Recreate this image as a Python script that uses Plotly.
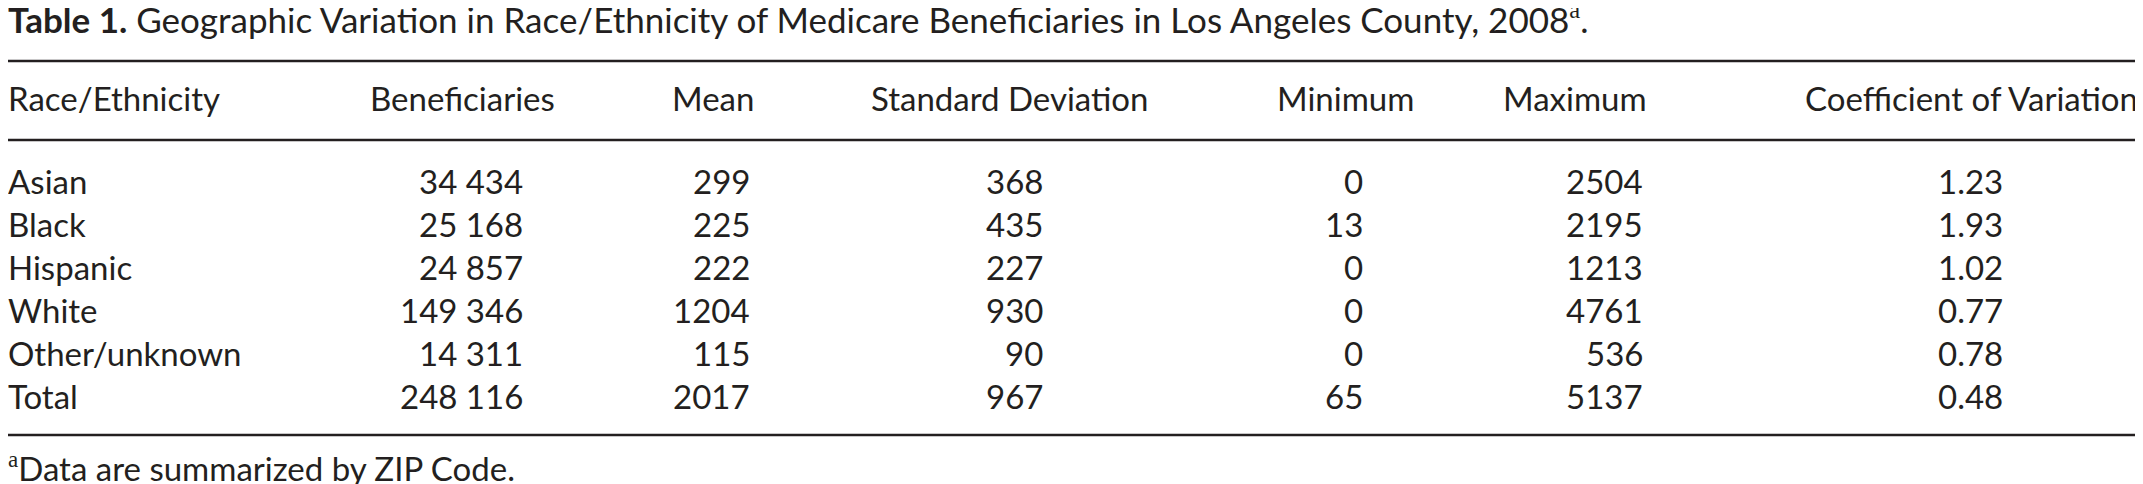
import plotly.graph_objects as go

# table content
title_label = "Table 1."
title_text = "Geographic Variation in Race/Ethnicity of Medicare Beneficiaries in Los Angeles County, 2008"
footnote = "Data are summarized by ZIP Code."

columns = ["Race/Ethnicity", "Beneficiaries", "Mean", "Standard Deviation",
           "Minimum", "Maximum", "Coefficient of Variation"]
groups = ["Asian", "Black", "Hispanic", "White", "Other/unknown", "Total"]
beneficiaries = [34434, 25168, 24857, 149346, 14311, 248116]
mean = [299, 225, 222, 1204, 115, 2017]
std_dev = [368, 435, 227, 930, 90, 967]
minimum = [0, 13, 0, 0, 0, 65]
maximum = [2504, 2195, 1213, 4761, 536, 5137]
coef_var = [1.23, 1.93, 1.02, 0.77, 0.78, 0.48]

W, H = 2143, 484
INK = "#231f20"
FONT = "Lato"
BODY = 33
TITLE = 35

# layout of the page (pixels)
header_centers = [None, 454, 705, 1002, 1337, 1567, 1963]
value_right = [None, 515, 742, 1035, 1355, 1635, 1995]
header_y = 89.5
row_y0 = 172.5
row_step = 43
rules_y = [53, 132, 427]
SUP = '<sup><span style="font-family:\'Liberation Serif\'">a</span></sup>'


def fmt_thousands(v):
    return f"{v:,}".replace(",", " ")


value_cols = [
    [fmt_thousands(v) for v in beneficiaries],
    [str(v) for v in mean],
    [str(v) for v in std_dev],
    [str(v) for v in minimum],
    [str(v) for v in maximum],
    [f"{v:.2f}" for v in coef_var],
]

fig = go.Figure()
annotations = []


def add_text(x, y, text, xanchor, size=BODY):
    annotations.append(dict(
        x=x, y=y, xref="x", yref="y", text=text, showarrow=False,
        xanchor=xanchor, yanchor="middle", borderpad=0, borderwidth=0,
        font=dict(family=FONT, size=size, color=INK),
    ))


# title and footnote (the superscript makes the box taller, hence the offsets)
add_text(0, 10, f"<b>{title_label}</b> {title_text}{SUP}.", "left", TITLE)
add_text(0, 459, f"{SUP}{footnote}", "left")

# header row
add_text(0, header_y, columns[0], "left")
for name, cx in zip(columns[1:], header_centers[1:]):
    add_text(cx, header_y, name, "center")

# body rows
for i, grp in enumerate(groups):
    y = row_y0 + i * row_step
    add_text(0, y, grp, "left")
    for col, xr in zip(value_cols, value_right[1:]):
        add_text(xr, y, col[i], "right")

shapes = [
    dict(type="line", xref="paper", yref="y", x0=0, x1=1, y0=ry, y1=ry,
         line=dict(color=INK, width=2.5))
    for ry in rules_y
]

fig.update_layout(
    width=W, height=H,
    margin=dict(l=0, r=0, t=0, b=0),
    paper_bgcolor="white", plot_bgcolor="white",
    xaxis=dict(range=[0, W], visible=False, fixedrange=True),
    yaxis=dict(range=[H, 0], visible=False, fixedrange=True),
    annotations=annotations,
    shapes=shapes,
    showlegend=False,
)

fig.write_html("out.html", config={"displayModeBar": False})
